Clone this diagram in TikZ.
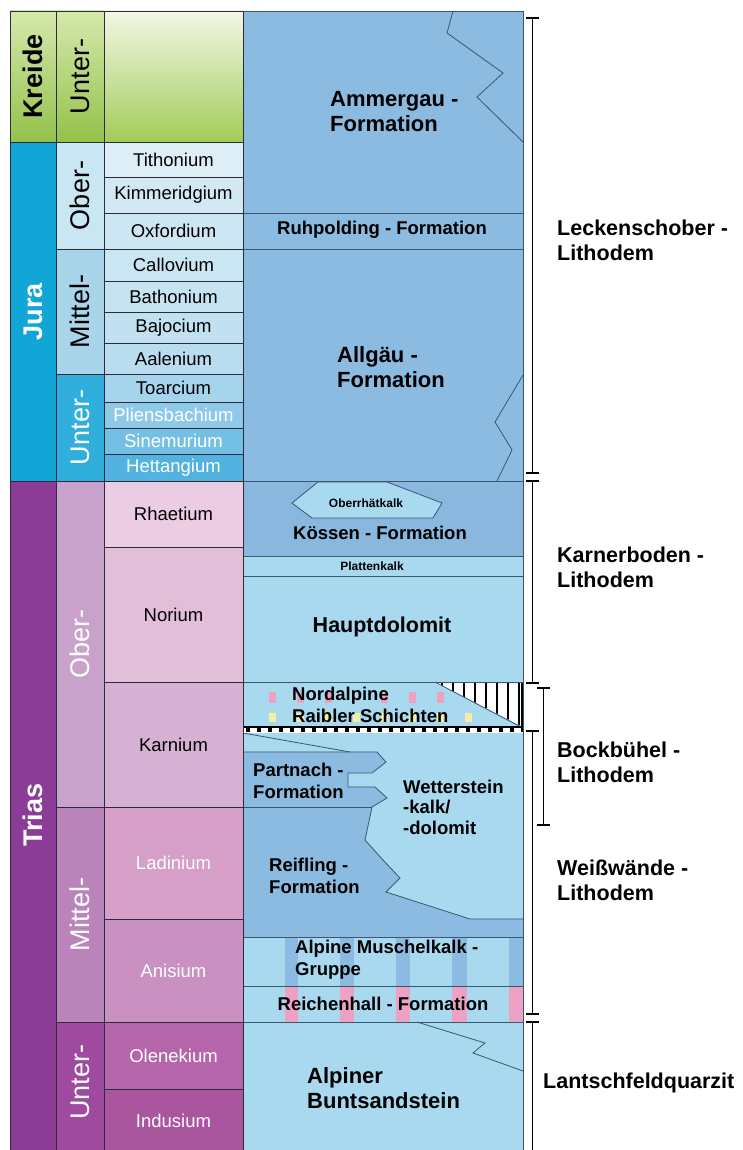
\documentclass[tikz,border=0pt]{standalone}
\usepackage{fontspec}
\setmainfont{Liberation Sans}
\definecolor{cellline}{HTML}{2B2B3B}
\definecolor{fmline}{HTML}{3A5670}
\definecolor{kreTopA}{HTML}{D6E8AC}
\definecolor{kreBotA}{HTML}{93C24A}
\definecolor{kreTopB}{HTML}{F2F7E6}
\definecolor{kreBotB}{HTML}{A2CC58}
\definecolor{jura}{HTML}{12A6D6}
\definecolor{juraO}{HTML}{C9E6F3}
\definecolor{juraM}{HTML}{A8D5EA}
\definecolor{juraU}{HTML}{30AFDD}
\definecolor{sTith}{HTML}{DDEEF7}
\definecolor{sKimm}{HTML}{D2E9F4}
\definecolor{sOxf}{HTML}{CDE6F3}
\definecolor{sCall}{HTML}{CBE6F3}
\definecolor{sBath}{HTML}{C6E3F1}
\definecolor{sBaj}{HTML}{C1E1F0}
\definecolor{sAal}{HTML}{B9DDEF}
\definecolor{sToa}{HTML}{A6D4EC}
\definecolor{sPli}{HTML}{8ECAE8}
\definecolor{sSin}{HTML}{74BFE4}
\definecolor{sHet}{HTML}{52B3E0}
\definecolor{trias}{HTML}{8B3C96}
\definecolor{triasO}{HTML}{C9A2CB}
\definecolor{triasM}{HTML}{B984B9}
\definecolor{triasU}{HTML}{9D4A9F}
\definecolor{sRha}{HTML}{EBCCE3}
\definecolor{sNor}{HTML}{E2BED9}
\definecolor{sKar}{HTML}{D6B1D3}
\definecolor{sLad}{HTML}{D59FC8}
\definecolor{sAni}{HTML}{C991C1}
\definecolor{sOle}{HTML}{B566AB}
\definecolor{sInd}{HTML}{A9569F}
\definecolor{fmdark}{HTML}{8CBBE1}
\definecolor{fmkoe}{HTML}{89B7DD}
\definecolor{fmlight}{HTML}{A9D9EF}
\definecolor{mpink}{HTML}{EFA1C3}
\definecolor{myellow}{HTML}{F6EEA6}
\newcommand\stagecell[6]{%
  \fill[#3] (104,#1) rectangle (243,#2);
  \draw[cell] (104,#1) rectangle (243,#2);
  \node[stage,text=#5] (#6) at (173.5,{(#1+#2)/2}) {#4};}
\begin{document}
\begin{tikzpicture}[x=1pt,y=-1pt,
  cell/.style={draw=cellline, line width=0.8pt},
  stage/.style={font=\fontsize{18.5}{20}\selectfont, inner sep=0pt},
  epoch/.style={rotate=90, font=\fontsize{27}{30}\selectfont, inner sep=0pt},
  period/.style={rotate=90, font=\bfseries\fontsize{27}{30}\selectfont, inner sep=0pt},
  fm/.style={font=\bfseries\fontsize{18.5}{21.5}\selectfont, align=left, inner sep=0pt},
  fmbig/.style={font=\bfseries\fontsize{22}{25}\selectfont, align=left, inner sep=0pt},
  fl/.style={draw=fmline, line width=0.8pt},
  brk/.style={line width=1.6pt, draw=black},
  lab/.style={font=\bfseries\fontsize{21.5}{25}\selectfont, align=left, inner sep=0pt, anchor=west}
]
\useasboundingbox (0,0) rectangle (742,1150);
\fill[white] (0,0) rectangle (742,1150);

% ---------- Kreide ----------
\shade[top color=kreTopA, bottom color=kreBotA] (10,11) rectangle (104,142);
\shade[top color=kreTopB, bottom color=kreBotB] (104,11) rectangle (243,142);
\draw[cell] (10,11) rectangle (56,142);
\draw[cell] (56,11) rectangle (104,142);
\draw[cell] (104,11) rectangle (243,142);
\node[period] (kreide) at (33,76.5) {Kreide};
\node[epoch] (kreU) at (80,76.5) {Unter-};

% ---------- Jura ----------
\fill[jura] (10,142) rectangle (56,481);
\draw[cell] (10,142) rectangle (56,481);
\node[period,text=white] (jurap) at (33,311.5) {Jura};
\fill[juraO] (56,142) rectangle (104,249);
\draw[cell] (56,142) rectangle (104,249);
\node[epoch] (juraOb) at (80,195.5) {Ober-};
\fill[juraM] (56,249) rectangle (104,374);
\draw[cell] (56,249) rectangle (104,374);
\node[epoch] (juraMi) at (80,311.5) {Mittel-};
\fill[juraU] (56,374) rectangle (104,481);
\draw[cell] (56,374) rectangle (104,481);
\node[epoch,text=white] (juraUn) at (80,427.5) {Unter-};

\stagecell{142}{177}{sTith}{Tithonium}{black}{tith}
\stagecell{177}{213}{sKimm}{Kimmeridgium}{black}{kimm}
\stagecell{213}{249}{sOxf}{Oxfordium}{black}{oxf}
\stagecell{249}{281}{sCall}{Callovium}{black}{call}
\stagecell{281}{312}{sBath}{Bathonium}{black}{bath}
\stagecell{312}{343}{sBaj}{Bajocium}{black}{baj}
\stagecell{343}{374}{sAal}{Aalenium}{black}{aal}
\stagecell{374}{402}{sToa}{Toarcium}{black}{toa}
\stagecell{402}{428}{sPli}{Pliensbachium}{white}{pli}
\stagecell{428}{454}{sSin}{Sinemurium}{white}{sin}
\stagecell{454}{481}{sHet}{Hettangium}{white}{het}

% ---------- Trias ----------
\fill[trias] (10,481) rectangle (56,1155);
\draw[cell] (10,481) rectangle (56,1155);
\node[period,text=white] (triasp) at (33,815) {Trias};
\fill[triasO] (56,481) rectangle (104,807);
\draw[cell] (56,481) rectangle (104,807);
\node[epoch,text=white] (triasOb) at (80,644) {Ober-};
\fill[triasM] (56,807) rectangle (104,1022);
\draw[cell] (56,807) rectangle (104,1022);
\node[epoch,text=white] (triasMi) at (80,914.5) {Mittel-};
\fill[triasU] (56,1022) rectangle (104,1155);
\draw[cell] (56,1022) rectangle (104,1155);
\node[epoch,text=white] (triasUn) at (80,1082) {Unter-};

\stagecell{481}{547}{sRha}{Rhaetium}{black}{rha}
\stagecell{547}{682}{sNor}{Norium}{black}{nor}
\stagecell{682}{807}{sKar}{Karnium}{black}{kar}
\stagecell{807}{919}{sLad}{Ladinium}{white}{lad}
\stagecell{919}{1022}{sAni}{Anisium}{white}{ani}
\stagecell{1022}{1089}{sOle}{Olenekium}{white}{ole}
\fill[sInd] (104,1089) rectangle (243,1155);
\draw[cell] (104,1089) rectangle (243,1155);
\node[stage,text=white] (ind) at (173.5,1121) {Indusium};

% ---------- Formation column ----------
\fill[fmdark] (243,11) rectangle (523,481);
\fill[fmkoe] (243,481) rectangle (523,556);
\fill[fmlight] (243,556) rectangle (523,1155);
% Partnach + Reifling
\fill[fmdark] (243,752) -- (377,752) -- (386,762) -- (372,773) -- (348,773) -- (348,787)
  -- (375,787) -- (387,798) -- (372,807) -- (365,840) -- (383,860) -- (400,878)
  -- (386,892) -- (470,919) -- (523,919) -- (523,937) -- (243,937) -- cycle;
\draw[fl] (243,752) -- (377,752) -- (386,762) -- (372,773) -- (348,773) -- (348,787)
  -- (375,787) -- (387,798) -- (372,807) -- (365,840) -- (383,860) -- (400,878)
  -- (386,892) -- (470,919) -- (523,919);
\draw[fl] (243,807) -- (372,807);
\draw[fl] (243,733) -- (350,752);
% stripes
\foreach \a/\b in {285/298,340/354,396/410,452/467,509/523}{
  \fill[fmdark] (\a,937) rectangle (\b,986);
  \fill[mpink] (\a,986) rectangle (\b,1022);
}
% Nordalpine marks
\foreach \x in {272,300,328,384,412,440}{\fill[mpink] (\x-3.5,692) rectangle (\x+3.5,703);}
\foreach \x in {272,300,328,356,384,412,440,468}{\fill[myellow] (\x-3.5,713) rectangle (\x+3.5,722);}
% hatched triangle
\begin{scope}
\clip (435,682) -- (523,682) -- (523,727) -- cycle;
\fill[white] (435,682) rectangle (523,727);
\foreach \x in {442,453,...,522}{\draw[line width=2.2pt] (\x,682) -- (\x,727);}
\end{scope}
\draw[fl] (435,682) -- (521,727);
\draw[line width=2pt] (522,682) -- (522,727);
% hexagon Oberrhaetkalk
\filldraw[fill=fmlight, draw=fmline, line width=0.8pt] (292,503) -- (318,482) -- (387,482) -- (442,503) -- (433,518) -- (312,518) -- cycle;
% zigzags
\draw[fl] (453,11) -- (447,33) -- (503,73) -- (477,97) -- (523,142);
\draw[fl] (523,375) -- (495,422) -- (512,450) -- (497,481);
\draw[fl] (417,1022) -- (485,1043) -- (473,1053) -- (523,1071);
% horizontal lines
\foreach \y in {213,249,481,556,576,682,937,986,1022}{\draw[fl] (243,\y) -- (523,\y);}
% band
\fill[white] (243,726.5) rectangle (523,732.5);
\draw[line width=1.2pt] (243,727) -- (523,727);
\draw[line width=4pt, dash pattern=on 3.5pt off 7.5pt] (246,730) -- (523,730);
% outer border
\draw[fl] (243,11) -- (523,11) -- (523,1155);
\draw[cell] (243,11) -- (243,1155);

% formation texts
\node[fmbig, anchor=west] (ammergau) at (330,112) {Ammergau -\\Formation};
\node[fm] (ruhpolding) at (382,230) {Ruhpolding - Formation};
\node[fmbig, anchor=west] (allgaeu) at (337,367) {Allgäu -\\Formation};
\node[font=\bfseries\fontsize{12}{14}\selectfont, inner sep=0pt] (oberrhaet) at (366,503) {Oberrhätkalk};
\node[fm] (koessen) at (380,533) {Kössen - Formation};
\node[font=\bfseries\fontsize{12}{14}\selectfont, inner sep=0pt] (platten) at (372,566) {Plattenkalk};
\node[font=\bfseries\fontsize{21.5}{24}\selectfont, inner sep=0pt] (haupt) at (382,627) {Hauptdolomit};
\node[fm, anchor=west] (raibl) at (292,705) {Nordalpine\\Raibler Schichten};
\node[fm, anchor=west] (partnach) at (253,781) {Partnach -\\Formation};
\node[fm, anchor=west, font=\bfseries\fontsize{18.5}{20.5}\selectfont] (wetter) at (403,807) {Wetterstein\\-kalk/\\-dolomit};
\node[fm, anchor=west] (reifling) at (269,876) {Reifling -\\Formation};
\node[fm, anchor=west] (muschel) at (295,959.5) {Alpine Muschelkalk -\\Gruppe};
\node[fm] (reichenhall) at (383,1004) {Reichenhall - Formation};
\node[fmbig, anchor=west] (bunt) at (307,1088.5) {Alpiner\\Buntsandstein};

% ---------- brackets ----------
\draw[brk] (526,18) -- (539,18) (532.5,18) -- (532.5,473) (526,473) -- (539,473);
\draw[brk] (526,481) -- (539,481) (532.5,481) -- (532.5,683) (526,683) -- (539,683);
\draw[brk] (537,688) -- (550,688) (543.5,688) -- (543.5,825) (537,825) -- (550,825);
\draw[brk] (526,731) -- (539,731) (532.5,731) -- (532.5,1014) (526,1014) -- (539,1014);
\draw[brk] (526,1022) -- (539,1022) (532.5,1022) -- (532.5,1155);

\node[lab] (leck) at (557,240.5) {Leckenschober -\\Lithodem};
\node[lab] (karner) at (557,567.5) {Karnerboden -\\Lithodem};
\node[lab] (bock) at (557,762.5) {Bockbühel -\\Lithodem};
\node[lab] (weiss) at (557,880) {Weißwände -\\Lithodem};
\node[lab] (lantsch) at (543,1083) {Lantschfeldquarzit};
\end{tikzpicture}
\end{document}
